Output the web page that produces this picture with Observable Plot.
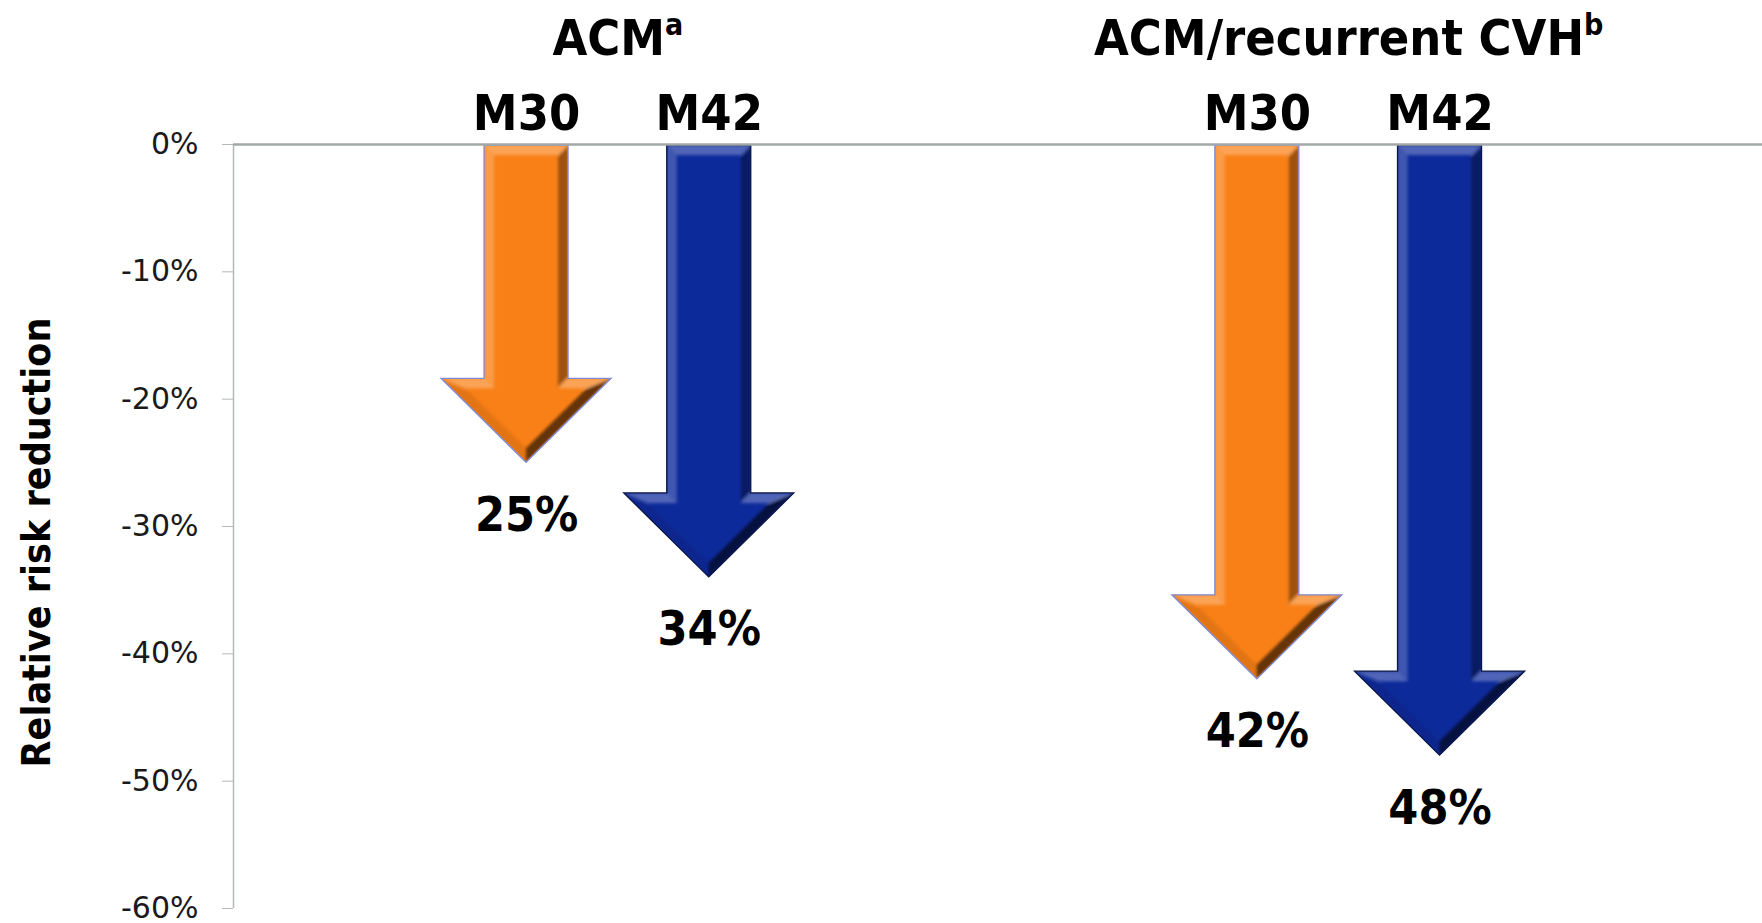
<!DOCTYPE html>
<html>
<head>
<meta charset="utf-8">
<script src="https://cdn.jsdelivr.net/npm/d3@7"></script>
<script src="https://cdn.jsdelivr.net/npm/@observablehq/plot@0.6"></script>
<style>
  html, body { margin: 0; padding: 0; background: #fff; }
  #chart svg { display: block; }
</style>
</head>
<body>
<div id="chart"></div>
<script>
// Endpoints and their footnote markers
const groups = ["ACM", "ACM/recurrent CVH"];
const groupNotes = ["a", "b"];
// Follow-up time points
const timepoints = ["M30", "M42"];
// Relative risk reduction (%) at each time point
const acmReduction = [25, 34];
const cvhReduction = [42, 48];
// Value axis ticks (%)
const yTicks = [0, -10, -20, -30, -40, -50, -60];

// ---- layout and styling ----
const reductions = [acmReduction, cvhReduction];
const slotsPerGroup = 4; // two arrows, then a gap before the next endpoint
const xDomain = [-1.604, 6.765];
const rows = groups.flatMap((g, gi) => timepoints.map((t, ti) => ({
  group: g,
  timepoint: t,
  value: reductions[gi][ti],
  slot: gi * slotsPerGroup + ti
})));
const headers = groups.map((g, gi) => ({
  name: g,
  note: groupNotes[gi],
  slot: gi * slotsPerGroup + (timepoints.length - 1) / 2
}));
const slotLabel = new Map(rows.map(d => [d.slot, d.timepoint]));

const arrowStyle = {
  M30: {fill: "#F98016", stroke: "#7F8CD8"},
  M42: {fill: "#0D2A9B", stroke: "#0A1445"}
};
const shaftWidth = 84, headWidth = 170, headHeight = 84, bevel = 10;
const light = (() => { const v = [-0.6, -0.8]; const m = Math.hypot(...v); return v.map(c => c / m); })();

const boldFont = "'DejaVu Sans Condensed', 'DejaVu Sans', sans-serif";

// Shrink a simple polygon by offsetting every edge inward by b
function insetPolygon(pts, b) {
  const n = pts.length;
  let area = 0;
  for (let i = 0; i < n; i++) {
    const [x0, y0] = pts[i], [x1, y1] = pts[(i + 1) % n];
    area += x0 * y1 - x1 * y0;
  }
  const sgn = area > 0 ? 1 : -1;
  const lines = pts.map((p, i) => {
    const q = pts[(i + 1) % n];
    const dx = q[0] - p[0], dy = q[1] - p[1], m = Math.hypot(dx, dy);
    const d = [dx / m, dy / m];
    const nIn = [-d[1] * sgn, d[0] * sgn];
    return {p: [p[0] + nIn[0] * b, p[1] + nIn[1] * b], d, nIn};
  });
  return pts.map((p, k) => {
    const a = lines[(k - 1 + n) % n], c = lines[k];
    const cross = a.d[0] * c.d[1] - a.d[1] * c.d[0];
    if (Math.abs(cross) < 1e-9) return [p[0] + c.nIn[0] * b, p[1] + c.nIn[1] * b];
    const wx = c.p[0] - a.p[0], wy = c.p[1] - a.p[1];
    const t = (wx * c.d[1] - wy * c.d[0]) / cross;
    return [a.p[0] + a.d[0] * t, a.p[1] + a.d[1] * t];
  });
}

// Bevelled down-arrows: the shaft starts at 0% and the tip sits on the value
function arrowsMark(data) {
  return (index, {x, y}) => {
    const g = d3.create("svg:g").attr("class", "arrows");
    const defs = g.append("defs");
    defs.append("filter").attr("id", "arrow-soften")
      .attr("x", "-20%").attr("y", "-20%").attr("width", "140%").attr("height", "140%")
      .append("feGaussianBlur").attr("stdDeviation", 1.8);
    data.forEach((d, i) => {
      const style = arrowStyle[d.timepoint];
      const cx = x(d.slot), top = y(0) + 1, tip = y(-d.value);
      const neck = tip - headHeight;
      const pts = [
        [cx - shaftWidth / 2, top], [cx + shaftWidth / 2, top],
        [cx + shaftWidth / 2, neck], [cx + headWidth / 2, neck],
        [cx, tip],
        [cx - headWidth / 2, neck], [cx - shaftWidth / 2, neck]
      ];
      const n = pts.length;
      const inner = insetPolygon(pts, bevel);
      const id = `arrow-clip-${i}`;
      defs.append("clipPath").attr("id", id).append("polygon").attr("points", pts.join(" "));
      g.append("polygon").attr("points", pts.join(" ")).attr("fill", style.fill);
      const faces = g.append("g").attr("clip-path", `url(#${id})`)
        .append("g").attr("filter", "url(#arrow-soften)");
      pts.forEach((p, k) => {
        const q = pts[(k + 1) % n];
        const dx = q[0] - p[0], dy = q[1] - p[1], m = Math.hypot(dx, dy);
        // outward normal of a clockwise (screen) polygon
        const out = [dy / m, -dx / m];
        const shade = out[0] * light[0] + out[1] * light[1];
        faces.append("polygon")
          .attr("points", [p, q, inner[(k + 1) % n], inner[k]].join(" "))
          .attr("fill", shade > 0 ? "#fff" : "#000")
          .attr("fill-opacity", shade > 0 ? shade * 0.35 : -shade * 0.6);
      });
      g.append("polygon").attr("points", pts.join(" "))
        .attr("fill", "none").attr("stroke", style.stroke)
        .attr("stroke-width", 1.3).attr("stroke-linejoin", "miter");
    });
    return g.node();
  };
}

const chart = Plot.plot({
  width: 1762,
  height: 923,
  marginTop: 144,
  marginBottom: 15,
  marginLeft: 233,
  marginRight: 0,
  style: {background: "#fff", fontFamily: "'DejaVu Sans', sans-serif", overflow: "visible"},
  x: {type: "linear", domain: xDomain},
  y: {domain: [-60, 0]},
  marks: [
    Plot.ruleX([xDomain[0]], {stroke: "#B4B8B8", strokeWidth: 1.5}),
    Plot.axisY({
      ticks: yTicks,
      tickFormat: d => `${d}%`,
      tickSize: 11,
      tickPadding: 24,
      fontSize: 30,
      stroke: "#B4B8B8",
      fill: "#1a1a1a",
      label: null
    }),
    arrowsMark(rows),
    Plot.ruleY([0], {stroke: "#A2A7A7", strokeWidth: 2.5}),
    Plot.axisX({
      anchor: "top",
      ticks: rows.map(d => d.slot),
      tickFormat: d => slotLabel.get(d),
      tickSize: 0,
      tickPadding: 15,
      fontSize: 50,
      fontWeight: "bold",
      fontFamily: boldFont,
      fill: "#000",
      label: null
    }),
    Plot.text(headers, {
      x: "slot",
      text: d => d.name + d.note,
      frameAnchor: "top",
      dy: -90,
      lineAnchor: "bottom",
      fontSize: 50,
      fontWeight: "bold",
      fontFamily: boldFont,
      fill: "#000"
    }),
    Plot.text(rows, {
      x: "slot",
      y: d => -d.value,
      text: d => `${d.value}%`,
      dy: 68,
      lineAnchor: "bottom",
      fontSize: 48,
      fontWeight: "bold",
      fontFamily: boldFont,
      fill: "#000"
    }),
    Plot.text(["Relative risk reduction"], {
      text: d => d,
      frameAnchor: "left",
      textAnchor: "middle",
      rotate: -90,
      dx: -196,
      dy: 16,
      fontSize: 39,
      fontWeight: "bold",
      fontFamily: boldFont,
      fill: "#000"
    })
  ]
});

// Set each endpoint's footnote marker as a raised, smaller letter
const headerText = new Map(headers.map(h => [h.name + h.note, h]));
d3.select(chart).selectAll("text")
  .filter(function () { return headerText.has(this.textContent); })
  .each(function () {
    const h = headerText.get(this.textContent);
    const t = d3.select(this).text(h.name);
    t.append("tspan").attr("font-size", 30).attr("dy", -20).text(h.note);
  });

document.getElementById("chart").append(chart);
</script>
</body>
</html>
